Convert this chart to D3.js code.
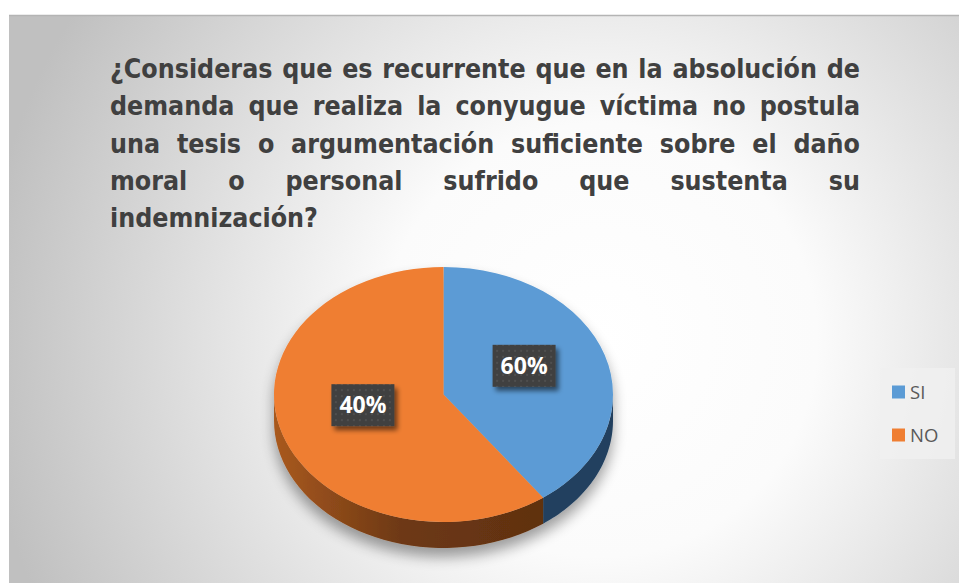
<!DOCTYPE html>
<html>
<head>
<meta charset="utf-8">
<script src="https://cdn.jsdelivr.net/npm/d3@7"></script>
<style>
  html, body { margin: 0; padding: 0; background: #ffffff; }
  svg { display: block; }
</style>
</head>
<body>
<div id="chart"></div>
<script>
// data
var categories = ["SI", "NO"];
var shares = [40, 60];            // slice sizes as drawn
var labelTexts = ["60%", "40%"];  // labels as printed on the slices
var topColors = ["#5b9bd5", "#ef7e32"];

var titleLines = [
  "¿Consideras que es recurrente que en la absolución de",
  "demanda que realiza la conyugue víctima no postula",
  "una tesis o argumentación suficiente sobre el daño",
  "moral o personal sufrido que sustenta su",
  "indemnización?"
];

var W = 959, H = 583;

var svg = d3.select("#chart").append("svg")
  .attr("width", W)
  .attr("height", H);

var defs = svg.append("defs");

// background gradient of the chart area
var bg = defs.append("radialGradient")
  .attr("id", "bgGrad")
  .attr("gradientUnits", "userSpaceOnUse")
  .attr("cx", 600).attr("cy", 340).attr("r", 620);
bg.append("stop").attr("offset", "0%").attr("stop-color", "#ffffff");
bg.append("stop").attr("offset", "35%").attr("stop-color", "#fbfbfb");
bg.append("stop").attr("offset", "100%").attr("stop-color", "#c0c0c0");

// side wall gradient for the orange slice
var sideGrad = defs.append("linearGradient")
  .attr("id", "sideOrange")
  .attr("gradientUnits", "userSpaceOnUse")
  .attr("x1", 274).attr("x2", 552).attr("y1", 0).attr("y2", 0);
sideGrad.append("stop").attr("offset", "0%").attr("stop-color", "#a9591f");
sideGrad.append("stop").attr("offset", "45%").attr("stop-color", "#6e3914");
sideGrad.append("stop").attr("offset", "100%").attr("stop-color", "#5f3010");

// soft shadow under the pie
var sh = defs.append("filter").attr("id", "pieShadow")
  .attr("x", "-20%").attr("y", "-20%").attr("width", "140%").attr("height", "150%");
sh.append("feGaussianBlur").attr("in", "SourceAlpha").attr("stdDeviation", 7);
sh.append("feOffset").attr("dy", 9).attr("result", "b");
sh.append("feComponentTransfer").append("feFuncA").attr("type", "linear").attr("slope", 0.38);
var shm = sh.append("feMerge");
shm.append("feMergeNode");
shm.append("feMergeNode").attr("in", "SourceGraphic");

// shadow for label boxes
var lsh = defs.append("filter").attr("id", "boxShadow")
  .attr("x", "-30%").attr("y", "-30%").attr("width", "170%").attr("height", "180%");
lsh.append("feGaussianBlur").attr("in", "SourceAlpha").attr("stdDeviation", 2.5);
lsh.append("feOffset").attr("dx", 3).attr("dy", 4);
lsh.append("feComponentTransfer").append("feFuncA").attr("type", "linear").attr("slope", 0.55);
var lshm = lsh.append("feMerge");
lshm.append("feMergeNode");
lshm.append("feMergeNode").attr("in", "SourceGraphic");

// dotted pattern on label boxes
var pat = defs.append("pattern").attr("id", "dots")
  .attr("patternUnits", "userSpaceOnUse")
  .attr("width", 6).attr("height", 6);
pat.append("rect").attr("width", 6).attr("height", 6).attr("fill", "#404040");
pat.append("circle").attr("cx", 3).attr("cy", 3).attr("r", 0.9).attr("fill", "#575757");

// chart area
svg.append("rect")
  .attr("x", 9).attr("y", 15)
  .attr("width", W - 9).attr("height", H - 15)
  .attr("fill", "url(#bgGrad)");
svg.append("line")
  .attr("x1", 9).attr("x2", W).attr("y1", 15.5).attr("y2", 15.5)
  .attr("stroke", "#b4b4b4").attr("stroke-width", 1.5);

// title, justified like the original
var titleLeft = 110, titleRight = 860, titleTop = 78, lineGap = 37.3;
var titleG = svg.append("g")
  .style("font-family", "'Liberation Sans Narrow', 'DejaVu Sans Condensed', 'Open Sans', sans-serif")
  .style("font-weight", "bold")
  .attr("fill", "#404040");

// size the font so the last line has the same width as in the picture
var probe = titleG.append("text").style("font-size", "27px").text(titleLines[4]);
var fs = 27 * 208 / probe.node().getComputedTextLength();
probe.remove();
titleG.style("font-size", fs + "px");

titleLines.forEach(function(line, i) {
  var y = titleTop + i * lineGap;
  var words = line.split(" ");
  var last = i === titleLines.length - 1;
  var nodes = words.map(function(w) {
    return titleG.append("text").attr("y", y).text(w);
  });
  var widths = nodes.map(function(n) { return n.node().getComputedTextLength(); });
  var total = d3.sum(widths);
  var gap = last || words.length < 2 ? fs * 0.28 : (titleRight - titleLeft - total) / (words.length - 1);
  var x = titleLeft;
  nodes.forEach(function(n, k) {
    n.attr("x", x);
    x += widths[k] + gap;
  });
});

// 3D pie
var cx = 443.5, cy = 394.5, rx = 169.5, ry = 127.5, depth = 26;
var k = ry / rx;

var pie = d3.pie().sort(null).value(function(d) { return d; });
var arcs = pie(shares);

var arc = d3.arc().innerRadius(0).outerRadius(rx);

var pieG = svg.append("g").attr("filter", "url(#pieShadow)");

// outer wall for the front half of the pie
function wallPath(a0, a1) {
  var s = Math.max(a0, Math.PI / 2), e = Math.min(a1, Math.PI * 1.5);
  if (e <= s) return null;
  var steps = d3.range(0, 41).map(function(j) { return s + (e - s) * j / 40; });
  var top = steps.map(function(t) { return [cx + rx * Math.sin(t), cy - ry * Math.cos(t)]; });
  var bot = steps.slice().reverse().map(function(t) { return [cx + rx * Math.sin(t), cy - ry * Math.cos(t) + depth]; });
  return d3.line()(top.concat(bot)) + "Z";
}

var sideFills = ["#21405f", "url(#sideOrange)"];
arcs.forEach(function(a, i) {
  var p = wallPath(a.startAngle, a.endAngle);
  if (p) pieG.append("path").attr("d", p).attr("fill", sideFills[i]);
});

var topG = pieG.append("g")
  .attr("transform", "translate(" + cx + "," + cy + ") scale(1," + k + ")");
topG.selectAll("path.slice")
  .data(arcs)
  .enter()
  .append("path")
  .attr("class", "slice")
  .attr("d", arc)
  .attr("fill", function(d, i) { return topColors[i]; });

// data labels
var boxW = 63, boxH = 42, labelDy = -9;
var labG = svg.append("g");
arcs.forEach(function(a, i) {
  var mid = (a.startAngle + a.endAngle) / 2;
  var lx = cx + rx * 0.5 * Math.sin(mid);
  var ly = cy - ry * 0.5 * Math.cos(mid) + labelDy;
  var g = labG.append("g").attr("transform", "translate(" + lx + "," + ly + ")");
  g.append("rect")
    .attr("x", -boxW / 2).attr("y", -boxH / 2)
    .attr("width", boxW).attr("height", boxH)
    .attr("fill", "url(#dots)")
    .attr("filter", "url(#boxShadow)");
  g.append("text")
    .attr("text-anchor", "middle")
    .attr("dy", "0.36em")
    .style("font-family", "'Open Sans', 'DejaVu Sans', sans-serif")
    .style("font-weight", "bold")
    .style("font-size", "23px")
    .attr("fill", "#ffffff")
    .text(labelTexts[i]);
});

// legend
var legG = svg.append("g");
legG.append("rect")
  .attr("x", 880).attr("y", 368)
  .attr("width", 75).attr("height", 91)
  .attr("fill", "#f0f0f0").attr("opacity", 0.8);
var legY = d3.scalePoint().domain(categories).range([392, 435]);
categories.forEach(function(c, i) {
  legG.append("rect")
    .attr("x", 892).attr("y", legY(c) - 6.5)
    .attr("width", 13).attr("height", 13)
    .attr("fill", topColors[i]);
  legG.append("text")
    .attr("x", 910).attr("y", legY(c))
    .attr("dy", "0.36em")
    .style("font-family", "'Open Sans', 'Liberation Sans', sans-serif")
    .style("font-size", "18.5px")
    .attr("fill", "#595959")
    .text(c);
});
</script>
</body>
</html>
